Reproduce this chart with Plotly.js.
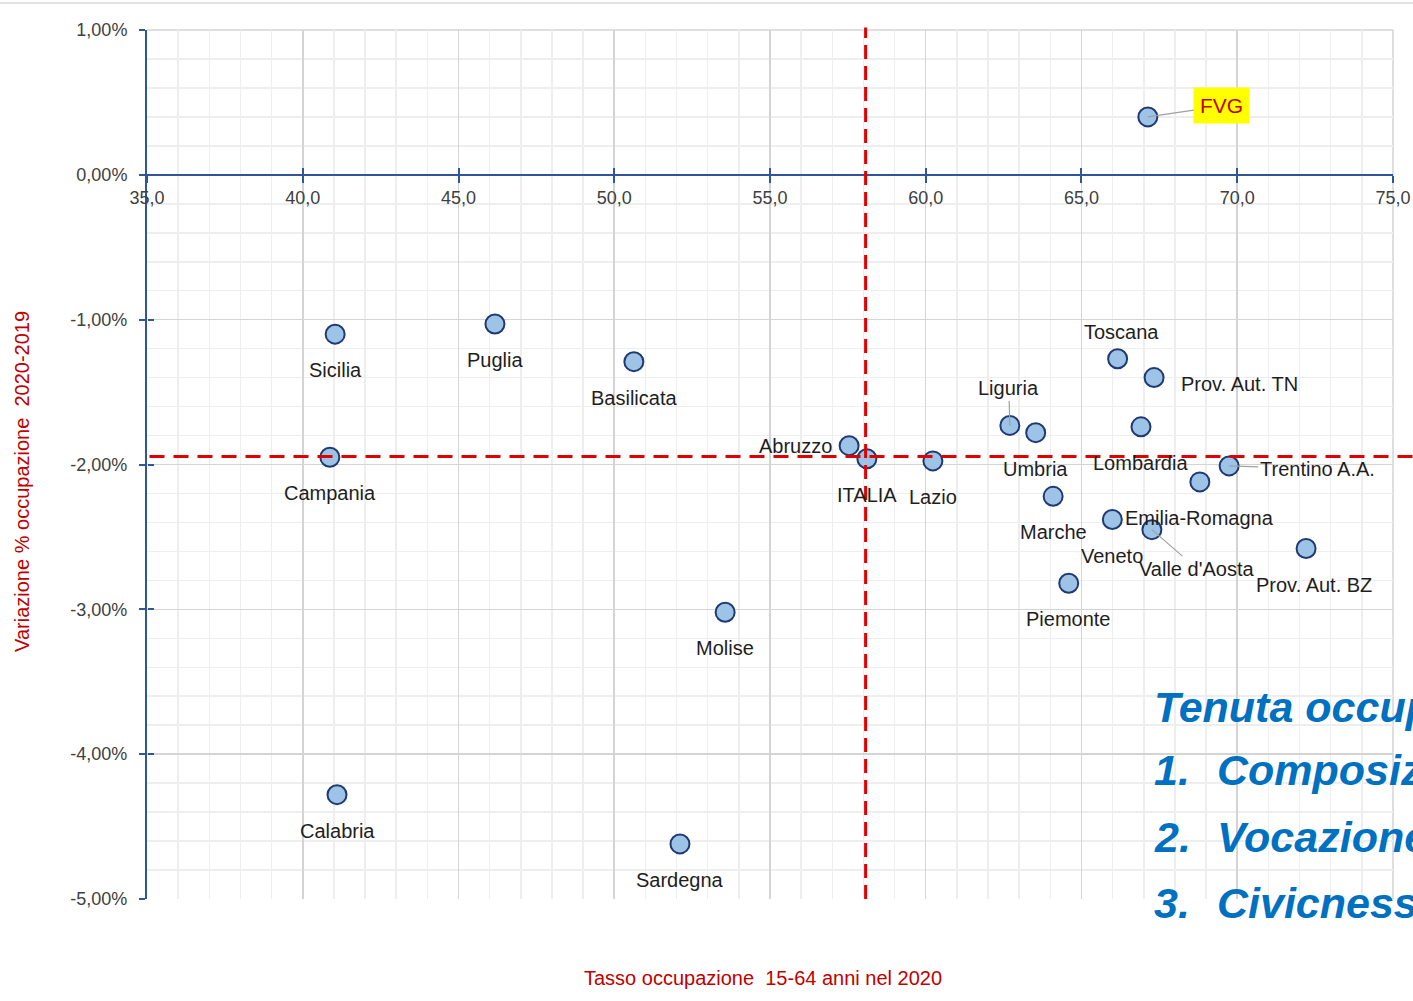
<!DOCTYPE html>
<html>
<head>
<meta charset="utf-8">
<script src="https://cdn.plot.ly/plotly-3.0.1.min.js"></script>
<style>
html,body{margin:0;padding:0;background:#fff;}
#chart{width:1413px;height:1001px;}
</style>
</head>
<body>
<div id="chart"></div>
<script>
// ---- data ----
const regions = ['FVG','Sicilia','Puglia','Basilicata','Campania','Abruzzo','ITALIA','Lazio','Liguria','Umbria','Toscana','Prov. Aut. TN','Lombardia','Trentino A.A.','Emilia-Romagna','Veneto',"Valle d'Aosta",'Marche','Prov. Aut. BZ','Piemonte','Molise','Calabria','Sardegna'];
const employmentRate2020 = [67.13,41.04,46.17,50.63,40.87,57.54,58.11,60.23,62.70,63.53,66.16,67.33,66.91,69.74,68.80,65.99,67.26,64.09,72.21,64.59,53.56,41.10,52.11];
const employmentChangePct = [0.40,-1.10,-1.03,-1.29,-1.95,-1.87,-1.96,-1.975,-1.73,-1.78,-1.27,-1.40,-1.74,-2.01,-2.12,-2.38,-2.45,-2.22,-2.58,-2.82,-3.02,-4.28,-4.62];
const refRate = 58.07;      // vertical dashed reference line
const refChange = -1.945;   // horizontal dashed reference line
const xTickVals = [35,40,45,50,55,60,65,70,75];
const xTickText = ['35,0','40,0','45,0','50,0','55,0','60,0','65,0','70,0','75,0'];
const yTickVals = [1,0,-1,-2,-3,-4,-5];
const yTickText = ['1,00%','0,00%','-1,00%','-2,00%','-3,00%','-4,00%','-5,00%'];
const xTitle = 'Tasso occupazione  15-64 anni nel 2020';
const yTitle = 'Variazione % occupazione  2020-2019';
const sideTitle = 'Tenuta occupazionale';
const sideNumbers = ['1.','2.','3.'];
const sideItems = ['Composizione settoriale','Vocazione manifatturiera','Civicness'];

// ---- label placement (style) ----
const placement = {
  'FVG':           {arrow:true, ax:74, ay:-11},
  'Liguria':       {arrow:true, ax:-1, ay:-37},
  'Trentino A.A.': {arrow:true, ax:88, ay:3},
  "Valle d'Aosta": {arrow:true, ax:45, ay:39},
  'Abruzzo':       {xanchor:'right', xs:-15, ys:0},
  'Prov. Aut. TN': {xanchor:'left', xs:25, ys:-6},
  'Toscana':       {xs:4, ys:27},
  'Prov. Aut. BZ': {xs:8, ys:-36}
};

const FONT = '"Liberation Sans", Arial, sans-serif';
const axisBlue = '#2f559a';

const annotations = regions.map((r,i) => {
  const p = placement[r] || {};
  const base = {x: employmentRate2020[i], y: employmentChangePct[i], xref:'x', yref:'y', text: r,
    font:{family:FONT, size:20, color:'#1e1e1e'}};
  if (p.arrow) {
    Object.assign(base, {showarrow:true, arrowhead:0, arrowwidth:1.2, arrowcolor:'#a0a0a0',
      ax:p.ax, ay:p.ay, axref:'pixel', ayref:'pixel', standoff:0});
    if (r === 'FVG') {
      Object.assign(base, {bgcolor:'#ffff00', borderpad:6, font:{family:FONT, size:21, color:'#c00000'}});
    }
  } else {
    Object.assign(base, {showarrow:false, xanchor:p.xanchor||'center', yanchor:'middle',
      xshift:p.xs||0, yshift:(p.ys===undefined?-36:p.ys)});
  }
  return base;
});

annotations.push({xref:'paper', yref:'paper', x:0.494, y:-0.091, text:xTitle, showarrow:false,
  font:{family:FONT, size:20, color:'#c00000'}, xanchor:'center', yanchor:'middle'});
annotations.push({xref:'paper', yref:'paper', x:-0.1003, y:0.48, text:yTitle, showarrow:false, textangle:-90,
  font:{family:FONT, size:20, color:'#c00000'}, xanchor:'center', yanchor:'middle'});

const sideFont = {family:FONT, size:43, color:'#0070c0', weight:'bold', style:'italic'};
annotations.push({xref:'paper', yref:'paper', x:0.8066, y:0.2209, text:'<b><i>'+sideTitle+'</i></b>', showarrow:false,
  xanchor:'left', yanchor:'middle', font:sideFont});
const sideY = [0.1484, 0.0713, -0.0046];
sideNumbers.forEach((n,i) => {
  annotations.push({xref:'paper', yref:'paper', x:0.8066, y:sideY[i], text:'<b><i>'+n+'</i></b>', showarrow:false,
    xanchor:'left', yanchor:'middle', font:sideFont});
  annotations.push({xref:'paper', yref:'paper', x:0.857, y:sideY[i], text:'<b><i>'+sideItems[i]+'</i></b>', showarrow:false,
    xanchor:'left', yanchor:'middle', font:sideFont});
});

const traces = [
  {type:'scatter', mode:'markers', x:employmentRate2020, y:employmentChangePct, text:regions,
   marker:{size:19, color:'#9dc3e6', line:{color:'#1f3a73', width:2}},
   hoverinfo:'text', showlegend:false, cliponaxis:false},
  {type:'scatter', mode:'markers', x:[], y:[], xaxis:'x2', yaxis:'y2', showlegend:false, hoverinfo:'skip'}
];

const xPos = (0 - (-5)) / 6;
const xRange = [35, 75.0005];
const yRange = [-5.0002, 1.0002];

const layout = {
  width:1413, height:1001,
  margin:{l:147, r:20, t:30, b:102},
  paper_bgcolor:'#ffffff', plot_bgcolor:'#ffffff',
  showlegend:false,
  font:{family:FONT, color:'#404040'},
  xaxis:{range:xRange, tickmode:'array', tickvals:xTickVals, ticktext:xTickText, anchor:'free', position:xPos,
    showline:true, linecolor:axisBlue, linewidth:2, ticks:'outside', ticklen:7, tickwidth:2, tickcolor:axisBlue,
    showgrid:true, gridcolor:'#d4d4d4', gridwidth:1.5, zeroline:false,
    minor:{dtick:1, tick0:35, showgrid:true, gridcolor:'#eeeeee', gridwidth:1.5},
    tickfont:{family:FONT, size:18, color:'#404040'}, fixedrange:true},
  yaxis:{range:yRange, tickmode:'array', tickvals:yTickVals, ticktext:yTickText,
    showline:true, linecolor:axisBlue, linewidth:2, ticks:'outside', ticklen:6, tickwidth:2, tickcolor:axisBlue,
    ticklabelstandoff:8,
    showgrid:true, gridcolor:'#d4d4d4', gridwidth:1.5, zeroline:false,
    minor:{dtick:0.2, tick0:0, showgrid:true, gridcolor:'#eeeeee', gridwidth:1.5},
    tickfont:{family:FONT, size:18, color:'#404040'}, fixedrange:true},
  xaxis2:{range:xRange, tickmode:'array', tickvals:xTickVals, overlaying:'x', anchor:'free', position:xPos,
    showline:false, ticks:'inside', ticklen:7, tickwidth:2, tickcolor:axisBlue,
    showticklabels:false, showgrid:false, zeroline:false, fixedrange:true},
  yaxis2:{range:yRange, tickmode:'array', tickvals:yTickVals, overlaying:'y', anchor:'free', position:0,
    showline:false, ticks:'inside', ticklen:6, tickwidth:2, tickcolor:axisBlue,
    showticklabels:false, showgrid:false, zeroline:false, fixedrange:true},
  shapes:[
    {type:'line', xref:'x', yref:'paper', x0:refRate, x1:refRate, y0:0, y1:1.003,
     line:{color:'#e00000', width:3, dash:'14px,7px'}},
    {type:'line', xref:'paper', yref:'y', x0:0.002, x1:1.017, y0:refChange, y1:refChange,
     line:{color:'#e00000', width:3, dash:'15px,9px'}},
    {type:'line', xref:'paper', yref:'paper', x0:-0.118, x1:1.017, y0:1.0311, y1:1.0311,
     line:{color:'#d9d9d9', width:1.5}},
    {type:'line', xref:'paper', yref:'paper', x0:0, x1:1, y0:1, y1:1, line:{color:'#d4d4d4', width:1.5}, layer:'below'},
    {type:'line', xref:'paper', yref:'paper', x0:1, x1:1, y0:0, y1:1, line:{color:'#d4d4d4', width:1.5}, layer:'below'}
  ],
  annotations: annotations
};

Plotly.newPlot('chart', traces, layout, {staticPlot:true, displayModeBar:false});
</script>
</body>
</html>
